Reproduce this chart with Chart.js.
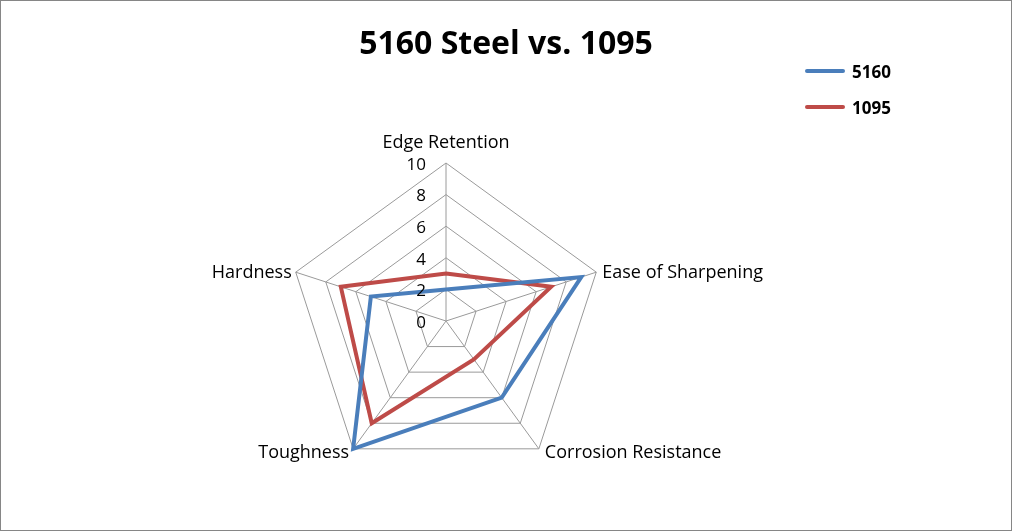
<!DOCTYPE html>
<html>
<head>
<meta charset="utf-8">
<script src="https://cdn.jsdelivr.net/npm/chart.js@4"></script>
<style>
  html, body { margin: 0; padding: 0; background: #fff; }
  #wrap { position: relative; width: 1012px; height: 531px; box-sizing: border-box; border: 1px solid #868686; }
  #legend { position: absolute; left: 804px; top: 52px; font: bold 17px "Open Sans", sans-serif; }
  .item { display: flex; align-items: center; height: 36px; }
  .swatch { width: 40px; height: 4px; border-radius: 2px; margin-right: 7px; }
</style>
</head>
<body>
<div id="wrap">
  <canvas id="radar" width="1010" height="529"></canvas>
  <div id="legend"></div>
</div>
<script>
const categories = ['Edge Retention', 'Ease of Sharpening', 'Corrosion Resistance', 'Toughness', 'Hardness'];
const steel5160 = [2, 9, 6, 10, 5];
const steel1095 = [3, 7, 3, 8, 7];
const tickValues = [0, 2, 4, 6, 8, 10];

const chartTitle = '5160 Steel vs. 1095';
const seriesNames = ['5160', '1095'];
const seriesColors = ['#4a7ebb', '#be4b48'];

// title over the whole canvas, axis names and tick numbers placed like Excel does
const labelPlugin = {
  id: 'excelLabels',
  afterDraw(chart) {
    const scale = chart.scales.r;
    const ctx = chart.ctx;
    ctx.save();
    ctx.fillStyle = '#000';

    ctx.font = 'bold 32px "Open Sans", sans-serif';
    ctx.textAlign = 'center';
    ctx.textBaseline = 'alphabetic';
    ctx.fillText(chartTitle, chart.width / 2, 53);

    ctx.textBaseline = 'middle';

    // tick numbers, left of the vertical axis
    ctx.font = '17px "Open Sans", sans-serif';
    ctx.textAlign = 'right';
    scale.ticks.forEach(t => {
      const d = scale.getDistanceFromCenterForValue(t.value);
      ctx.fillText(t.value, scale.xCenter - 20, scale.yCenter - d + 2);
    });

    // point labels
    ctx.font = '18px "Open Sans", sans-serif';
    chart.data.labels.forEach((label, i) => {
      const p = scale.getPointPosition(i, scale.drawingArea);
      const dy = p.y > scale.yCenter ? 4 : 1;
      if (i === 0) {
        ctx.textAlign = 'center';
        ctx.fillText(label, p.x, p.y - 20);
      } else if (p.x > scale.xCenter) {
        ctx.textAlign = 'left';
        ctx.fillText(label, p.x + 6, p.y + dy);
      } else {
        ctx.textAlign = 'right';
        ctx.fillText(label, p.x - 4, p.y + dy);
      }
    });
    ctx.restore();
  }
};

new Chart(document.getElementById('radar'), {
  type: 'radar',
  data: {
    labels: categories,
    datasets: [
      { label: seriesNames[0], data: steel5160, borderColor: seriesColors[0], borderWidth: 4, fill: false, pointRadius: 0 },
      { label: seriesNames[1], data: steel1095, borderColor: seriesColors[1], borderWidth: 4, fill: false, pointRadius: 0 }
    ]
  },
  options: {
    responsive: false,
    animation: false,
    layout: { padding: { top: 162, right: 120, bottom: 51, left: 0 } },
    plugins: {
      legend: { display: false },
      tooltip: { enabled: false },
      title: { display: false }
    },
    scales: {
      r: {
        min: 0,
        max: 10,
        ticks: { stepSize: 2, display: false },
        afterBuildTicks(scale) { scale.ticks = tickValues.map(v => ({ value: v })); },
        grid: { color: '#9a9a9a', lineWidth: 1 },
        angleLines: { color: '#9a9a9a', lineWidth: 1 },
        pointLabels: { display: false }
      }
    }
  },
  plugins: [labelPlugin]
});

// legend to the right, like the Excel one
const legend = document.getElementById('legend');
seriesNames.forEach((name, i) => {
  const row = document.createElement('div');
  row.className = 'item';
  row.innerHTML = '<span class="swatch" style="background:' + seriesColors[i] + '"></span>' + name;
  legend.appendChild(row);
});
</script>
</body>
</html>
